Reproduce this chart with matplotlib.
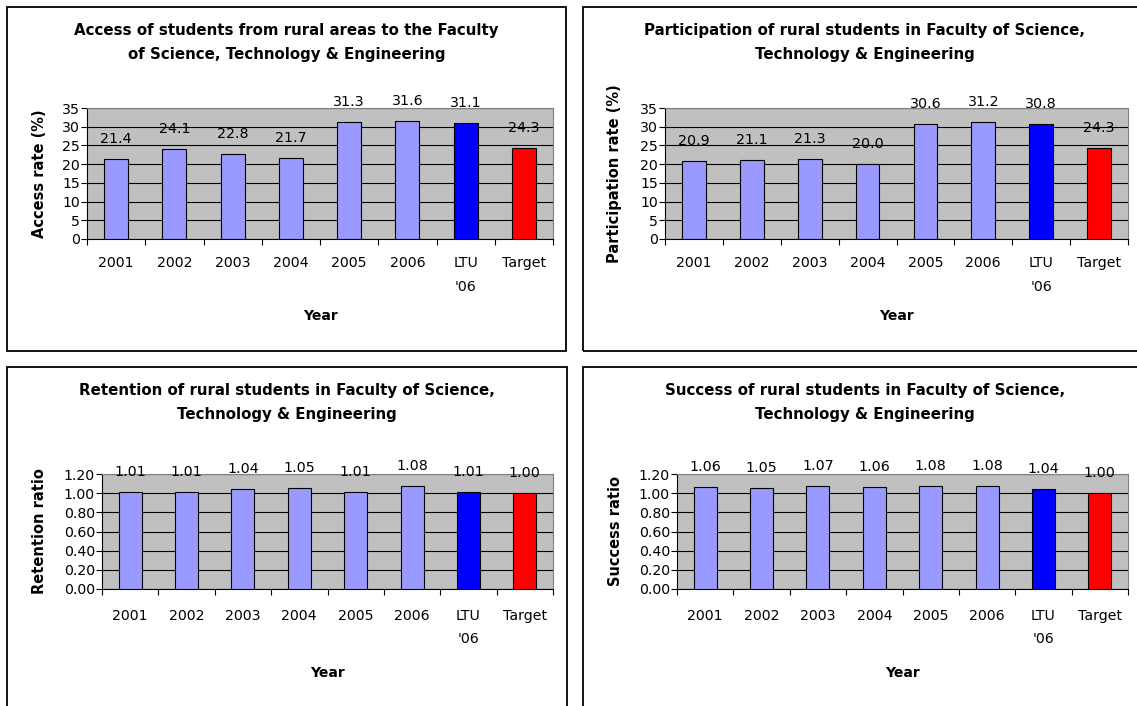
import matplotlib
matplotlib.use("Agg")
import matplotlib.pyplot as plt
import matplotlib.patches as mpatches
from matplotlib.ticker import FixedLocator, FormatStrFormatter

W, H = 1137, 706

categories = ["2001", "2002", "2003", "2004", "2005", "2006", "LTU\n'06", "Target"]
access = [21.4, 24.1, 22.8, 21.7, 31.3, 31.6, 31.1, 24.3]
participation = [20.9, 21.1, 21.3, 20.0, 30.6, 31.2, 30.8, 24.3]
retention = [1.01, 1.01, 1.04, 1.05, 1.01, 1.08, 1.01, 1.00]
success = [1.06, 1.05, 1.07, 1.06, 1.08, 1.08, 1.04, 1.00]

# Colours
BAR = "#9999FF"
LTU = "#0000FF"
TARGET = "#FF0000"
PLOT_BG = "#C0C0C0"
bar_colors = [BAR] * 6 + [LTU, TARGET]

plt.rcParams["font.family"] = "DejaVu Sans"

fig = plt.figure(figsize=(W / 100, H / 100), dpi=100, facecolor="white")


def px_axes(l, t, r, b):
    return fig.add_axes([l / W, 1 - b / H, (r - l) / W, (b - t) / H])


def frame(l, t, r, b):
    rect = mpatches.Rectangle((l / W, 1 - b / H), (r - l) / W, (b - t) / H,
                              transform=fig.transFigure, fill=False,
                              edgecolor="black", linewidth=1.3)
    fig.add_artist(rect)


def panel(values, box, plot, title, ylabel, ymax, ystep, fmt, ylab_x,
          title_y, tick_fmt, tick_pad, year_off):
    frame(*box)
    fig.text((box[0] + box[2]) / 2 / W, 1 - title_y / H, title,
             ha="center", va="center", fontsize=10.8, fontweight="bold",
             linespacing=1.75)

    l, t, r, b = plot
    ax = px_axes(l, t, r, b)
    ax.set_facecolor(PLOT_BG)
    x = range(len(categories))
    ax.bar(x, values, width=0.41, color=bar_colors, edgecolor="black",
           linewidth=0.8, zorder=3)
    for i, v in enumerate(values):
        ax.annotate(fmt.format(v), (i, v), xytext=(0, 20),
                    textcoords="offset pixels", ha="center", va="center",
                    fontsize=10.3, annotation_clip=False)

    ax.set_xlim(-0.5, len(categories) - 0.5)
    ax.set_ylim(0, ymax)
    ticks = [k * ystep for k in range(int(round(ymax / ystep)) + 1)]
    ax.set_yticks(ticks)
    ax.yaxis.set_major_formatter(FormatStrFormatter(tick_fmt))
    ax.set_xticks(list(x))
    ax.set_xticklabels(categories)
    ax.xaxis.set_minor_locator(FixedLocator([i - 0.5 for i in range(len(categories) + 1)]))
    ax.tick_params(axis="x", which="major", length=0, pad=tick_pad, labelsize=10.2)
    ax.tick_params(axis="x", which="minor", length=4, width=0.8, direction="out")
    ax.tick_params(axis="y", length=4, width=0.8, direction="out", pad=1, labelsize=10.2)
    for lbl in ax.get_xticklabels():
        lbl.set_linespacing(1.85)

    ax.set_axisbelow(True)
    ax.yaxis.grid(True, color="black", linewidth=0.8)
    ax.spines["top"].set_color("#808080")
    ax.spines["right"].set_color("#808080")
    ax.spines["left"].set_color("black")
    ax.spines["bottom"].set_color("black")
    for s in ax.spines.values():
        s.set_linewidth(0.8)

    ax.set_ylabel(ylabel, fontsize=10.5, fontweight="bold", va="center")
    ax.yaxis.set_label_coords((ylab_x - l) / (r - l), 0.5)
    ax.set_xlabel("Year", fontsize=10, fontweight="bold", va="center")
    year_y = b + year_off
    ax.xaxis.set_label_coords(0.5, (b - year_y) / (b - t))
    return ax


panel(access, (7, 7, 566, 351), (87, 108, 553, 239),
      "Access of students from rural areas to the Faculty\nof Science, Technology & Engineering",
      "Access rate (%)", 35, 5, "{:.1f}", 40, 42, "%d", 12.5, 77)
panel(participation, (583, 7, 1147, 351), (665, 108, 1128, 239),
      "Participation of rural students in Faculty of Science,\nTechnology & Engineering",
      "Participation rate (%)", 35, 5, "{:.1f}", 615, 42, "%d", 12.5, 77)
panel(retention, (7, 367, 567, 720), (102, 474, 553, 589),
      "Retention of rural students in Faculty of Science,\nTechnology & Engineering",
      "Retention ratio", 1.2, 0.2, "{:.2f}", 40, 403, "%.2f", 14.5, 84)
panel(success, (583, 367, 1147, 720), (677, 474, 1128, 589),
      "Success of rural students in Faculty of Science,\nTechnology & Engineering",
      "Success ratio", 1.2, 0.2, "{:.2f}", 615, 403, "%.2f", 14.5, 84)

plt.savefig("out.png", dpi=100, facecolor="white")
plt.close()
